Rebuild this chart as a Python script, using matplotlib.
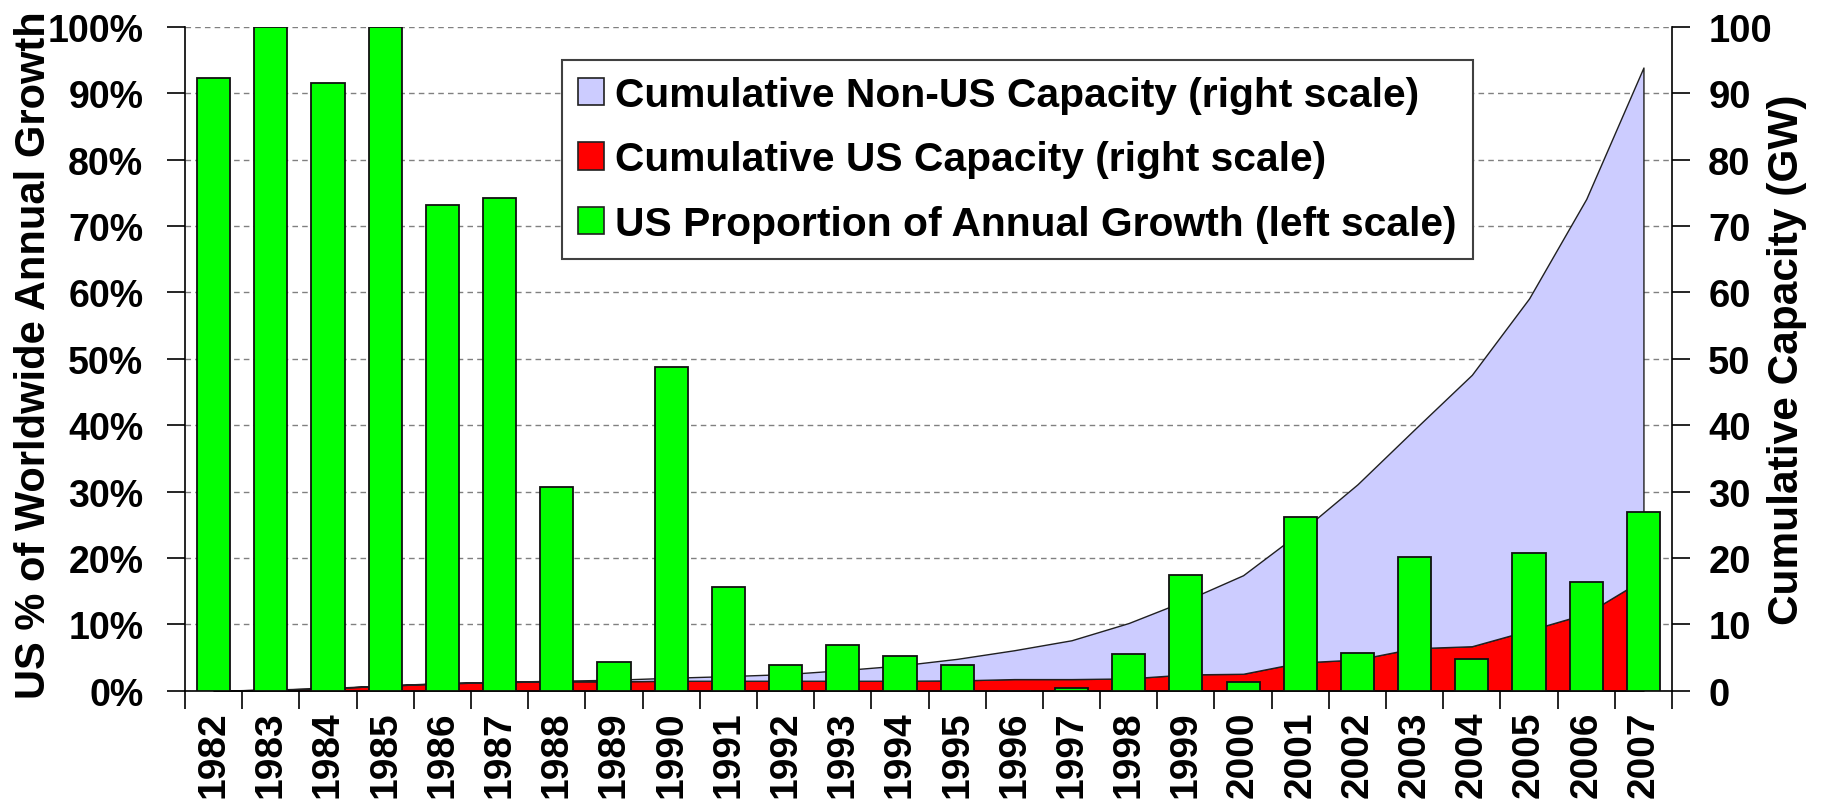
import matplotlib
matplotlib.use('Agg')
import matplotlib.pyplot as plt
from matplotlib import font_manager
from matplotlib.patches import Patch
from matplotlib.ticker import MultipleLocator, PercentFormatter
import numpy as np

# data
years = ['1982', '1983', '1984', '1985', '1986', '1987', '1988', '1989', '1990',
         '1991', '1992', '1993', '1994', '1995', '1996', '1997', '1998', '1999',
         '2000', '2001', '2002', '2003', '2004', '2005', '2006', '2007']
us_share = [92.3, 100, 91.5, 100, 73.2, 74.3, 30.7, 4.4, 48.8, 15.7, 3.8, 6.9, 5.3,
            3.8, 0, 0.4, 5.5, 17.4, 1.3, 26.1, 5.7, 20.1, 4.8, 20.8, 16.4, 27.0]
us_cap = [0.0, 0.15, 0.35, 0.75, 1.1, 1.3, 1.4, 1.4, 1.5, 1.5, 1.5, 1.5, 1.5,
          1.55, 1.75, 1.75, 1.85, 2.45, 2.55, 4.25, 4.7, 6.4, 6.7, 9.1, 11.6, 16.8]
nonus_cap = [0.0, 0.02, 0.05, 0.05, 0.05, 0.05, 0.1, 0.25, 0.45, 0.7, 1.0, 1.6, 2.3,
             3.25, 4.35, 5.85, 8.35, 11.15, 14.85, 19.65, 26.4, 33.0, 40.9, 50.0, 62.5, 77.1]

plt.rcParams['font.family'] = ['Liberation Sans', 'DejaVu Sans']
plt.rcParams['font.weight'] = 'bold'

# the year labels in the original are tall and narrow
installed = {f.name for f in font_manager.fontManager.ttflist}
if 'Liberation Sans Narrow' in installed:
    year_font, year_size = ['Liberation Sans Narrow', 'Liberation Sans'], 33
else:
    year_font, year_size = ['Liberation Sans', 'DejaVu Sans'], 28

fig = plt.figure(figsize=(18.21, 8.03), dpi=100)
ax = fig.add_axes([0.1016, 0.1386, 0.8166, 0.8265])
ax2 = ax.twinx()
ax.set_zorder(ax2.get_zorder() + 1)
ax.patch.set_visible(False)

x = np.arange(len(years))

# cumulative capacity areas (right scale)
ax2.stackplot(x, us_cap, nonus_cap, colors=['#FF0000', '#CCCCFF'],
              edgecolor='#202020', linewidth=1)
ax2.set_ylim(0, 100)
ax2.yaxis.set_major_locator(MultipleLocator(10))
ax2.yaxis.grid(True, linestyle=(0, (4, 3)), color='#808080', linewidth=1)
ax2.set_axisbelow(True)
ax2.tick_params(axis='y', length=13, width=1.2, pad=13, labelsize=27.5)
for s in ['top', 'left', 'bottom']:
    ax2.spines[s].set_visible(False)
ax2.spines['right'].set_linewidth(1.2)

# US share of annual growth (left scale)
ax.bar(x, us_share, width=0.58, color='#00FF00', edgecolor='#101010', linewidth=1.3, zorder=3)
ax.set_ylim(0, 100)
ax.set_xlim(-0.5, len(years) - 0.5)
ax.yaxis.set_major_locator(MultipleLocator(10))
ax.yaxis.set_major_formatter(PercentFormatter(100, decimals=0))
ax.tick_params(axis='y', length=13, width=1.2, pad=17, labelsize=27)

ax.set_xticks(np.arange(-0.5, len(years), 1))
ax.set_xticklabels([])
ax.set_xticks(x, minor=True)
ax.set_xticklabels(years, minor=True, rotation=90, fontsize=year_size,
                   fontweight='bold', family=year_font)
ax.tick_params(axis='x', which='major', length=13, width=1.2, direction='out')
ax.tick_params(axis='x', which='minor', length=0, pad=14)
for s in ['top', 'right']:
    ax.spines[s].set_visible(False)
ax.spines['left'].set_linewidth(1.2)
ax.spines['bottom'].set_linewidth(1.2)

# axis titles
fig.text(45 / 1821, 0.558, 'US % of Worldwide Annual Growth', rotation=90,
         rotation_mode='anchor', ha='center', va='baseline', fontsize=30, fontweight='bold')
fig.text(1798 / 1821, 0.5517, 'Cumulative Capacity (GW)', rotation=90,
         rotation_mode='anchor', ha='center', va='baseline', fontsize=30.5, fontweight='bold')

handles = [
    Patch(facecolor='#CCCCFF', edgecolor='#202020', linewidth=1.2,
          label='Cumulative Non-US Capacity (right scale)'),
    Patch(facecolor='#FF0000', edgecolor='#202020', linewidth=1.2,
          label='Cumulative US Capacity (right scale)'),
    Patch(facecolor='#00FF00', edgecolor='#202020', linewidth=1.2,
          label='US Proportion of Annual Growth (left scale)'),
]
leg = fig.legend(handles=handles, loc='upper left', bbox_to_anchor=(0.3085, 0.9244),
                 fontsize=29.3, frameon=True, fancybox=False, framealpha=1,
                 edgecolor='#404040', handlelength=0.64, handleheight=0.66,
                 handletextpad=0.27, labelspacing=0.65, borderpad=0.4, borderaxespad=0)
leg.get_frame().set_linewidth(1.5)

fig.savefig('out.png', dpi=100, facecolor='white')
